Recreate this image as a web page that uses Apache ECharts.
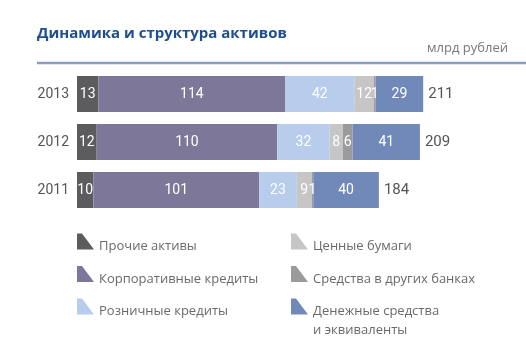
<!DOCTYPE html>
<html><head><meta charset="utf-8">
<script src="https://cdn.jsdelivr.net/npm/echarts@6/dist/echarts.min.js"></script>
<style>html,body{margin:0;padding:0;background:#fff}#c{width:526px;height:353px}</style>
</head><body><div id="c"></div>
<script>
const years = ['2011', '2012', '2013'];
const names = ['Прочие активы', 'Корпоративные кредиты', 'Розничные кредиты',
               'Ценные бумаги', 'Средства в других банках', 'Денежные средства и эквиваленты'];
const otherAssets = [10, 12, 13];
const corporateLoans = [101, 110, 114];
const retailLoans = [23, 32, 42];
const securities = [9, 8, 12];
const interbank = [1, 6, 1];
const cash = [40, 41, 29];
const totals = [184, 209, 211];

const values = [otherAssets, corporateLoans, retailLoans, securities, interbank, cash];
const colors = ['#5c5c5e', '#7d7899', '#b8cdec', '#c6c6c6', '#9b9b9d', '#7189b8'];
// visible trapezoid in top 16px, a degenerate point extends the box so text sits lower
const iconShort = 'path://M0,0 L5,0 L17,16 L0,16 Z M0,26 L0,26';
const iconTall = 'path://M0,0 L5,0 L17,16 L0,16 Z M0,45 L0,45';
const font = 'Roboto';

const series = values.map((v, i) => ({
  name: names[i], type: 'bar', stack: 'a', barWidth: 36, data: v,
  itemStyle: { color: colors[i] },
  label: { show: true, position: 'inside', color: '#fff', fontSize: 14, fontFamily: font }
}));
series.push({
  name: 'total', type: 'bar', stack: 'a', barWidth: 36, data: years.map(() => 0),
  itemStyle: { color: 'transparent' },
  label: { show: true, position: 'right', distance: 5, color: '#555', fontSize: 15, fontFamily: font,
           formatter: p => totals[p.dataIndex] }
});

const txt = { color: '#6a6a6a', fontSize: 13, fontFamily: 'Open Sans', lineHeight: 19 };
const legendBase = {
  orient: 'vertical', padding: 0, itemGap: 6.5, itemWidth: 17, itemHeight: 26, icon: iconShort,
  symbolKeepAspect: false, height: 140, textStyle: txt
};
const chart = echarts.init(document.getElementById('c'));
chart.setOption({
  animation: false,
  title: [
    { text: 'Динамика и структура активов', left: 37, top: 26, padding: 0,
      textStyle: { color: '#1d4f8f', fontSize: 15, fontWeight: 'bold', fontFamily: 'Open Sans' } },
    { text: 'млрд рублей', right: 18, top: 42, padding: 0,
      textStyle: { color: '#777', fontSize: 13, fontWeight: 'normal', fontFamily: 'Open Sans' } }
  ],
  graphic: [{ type: 'line', shape: { x1: 37, y1: 63, x2: 526, y2: 63 }, style: { stroke: '#8a9cc4', lineWidth: 2.5 } }],
  grid: { left: 77, right: 6, top: 70, height: 144 },
  xAxis: { type: 'value', min: 0, max: 270, show: false },
  yAxis: { type: 'category', data: years, axisLine: { show: false }, axisTick: { show: false },
           axisLabel: { color: '#555', fontSize: 14, fontFamily: font, margin: 8 } },
  legend: [
    Object.assign({}, legendBase, { left: 77, top: 233.5, data: names.slice(0, 3) }),
    Object.assign({}, legendBase, { left: 291, top: 233.5, data: names.slice(3, 5) }),
    Object.assign({}, legendBase, { left: 291, top: 298.5, itemHeight: 45, icon: iconTall, data: [names[5]],
      formatter: () => 'Денежные средства\nи эквиваленты' })
  ],
  series: series
});
</script></body></html>
